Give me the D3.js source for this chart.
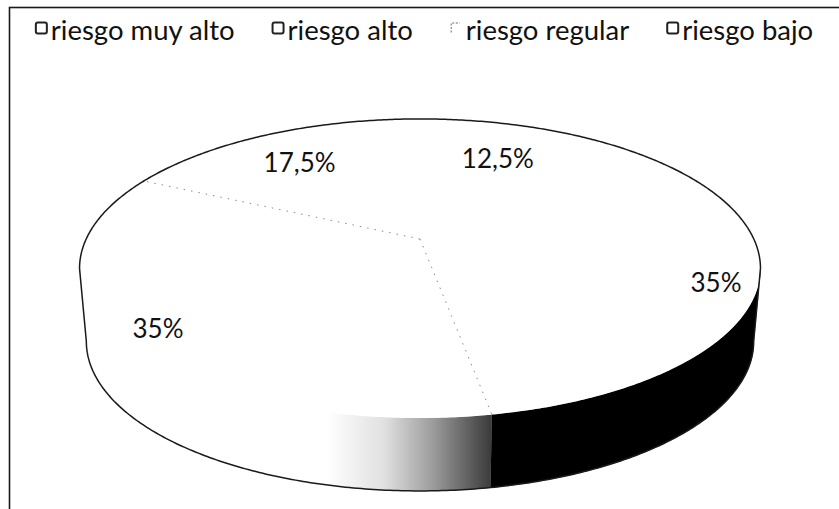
<!DOCTYPE html>
<html>
<head>
<meta charset="utf-8">
<script src="https://cdn.jsdelivr.net/npm/d3@7"></script>
<style>
  html, body { margin: 0; padding: 0; background: #fff; }
  svg { display: block; }
  text { font-family: Lato, "Open Sans", sans-serif; fill: #111; }
</style>
</head>
<body>
<svg id="chart" width="839" height="509"></svg>
<script>
// ---- data ----
const categories = ["riesgo muy alto", "riesgo alto", "riesgo regular", "riesgo bajo"];
const values = [35, 35, 17.5, 12.5];
const valueLabels = ["35%", "35%", "17,5%", "12,5%"];

// ---- styles ----
const sideFills = ["#000", "url(#sideGrad)", "#fff", "#fff"];
const edgeStrokes = [null, "#8a8a8a", null, null];
const swatchStrokes = ["#222", "#222", "#9a9a9a", "#222"];

const W = 839, H = 509;
const svg = d3.select("#chart");

// frame
svg.append("rect")
  .attr("x", 9.5).attr("y", 7.5)
  .attr("width", W + 10).attr("height", H + 10)
  .attr("fill", "#fff").attr("stroke", "#1a1a1a").attr("stroke-width", 1.6);

// ---- 3D perspective projection of the pie's top face ----
const elev = 25.5 * Math.PI / 180;
const sE = Math.sin(elev), cE = Math.cos(elev);
const dist = 5.08 * cE;      // camera distance (unit radius)
const cx0 = 420, cy0 = 239;  // projected pie centre
const topY = 119, frontY = 418;
const thickPx = 73;          // visual thickness of the side
const bottomShrink = 0.98;   // bottom rim slightly narrower
const spanUnits = sE / (dist + cE) + sE / (dist - cE);
const S = (frontY - topY) / spanUnits;

const xScale = d3.scaleLinear().domain([0, 1]).range([cx0, cx0 + S]);
const yScale = d3.scaleLinear().domain([0, 1]).range([cy0, cy0 - S]);

function project(theta, r) {
  const X = r * Math.sin(theta), Y = r * Math.cos(theta);
  const dep = Y * cE + dist;
  const up = Y * sE;
  return [xScale(X / dep), yScale(up / dep)];
}
function projectBottom(theta) {
  const p = project(theta, 1);
  return [cx0 + (p[0] - cx0) * bottomShrink, p[1] + thickPx];
}

const pie = d3.pie().sort(null).value(d => d)
  .startAngle(44 * Math.PI / 180)
  .endAngle(44 * Math.PI / 180 + 2 * Math.PI);
const arcs = pie(values);

function samples(a0, a1, fn) {
  const n = Math.max(2, Math.ceil(Math.abs(a1 - a0) / 0.01));
  const pts = [];
  for (let i = 0; i <= n; i++) pts.push(fn(a0 + (a1 - a0) * i / n));
  return pts;
}
const topArc = (a0, a1) => samples(a0, a1, t => project(t, 1));
const botArc = (a0, a1) => samples(a0, a1, projectBottom);
const line = d3.line();

// visible range of the side: between the horizontal extremes of the rim
const cLim = Math.acos(-cE / dist);
const vMin = cLim, vMax = 2 * Math.PI - cLim;

// gradient for the second slice side
const defs = svg.append("defs");
const gStart = project(arcs[1].startAngle, 1)[0];
const grad = defs.append("linearGradient").attr("id", "sideGrad")
  .attr("gradientUnits", "userSpaceOnUse")
  .attr("x1", gStart).attr("y1", 0).attr("x2", gStart - 165).attr("y2", 0);
[[0, "#3a3a3a"], [0.12, "#5a5a5a"], [0.35, "#9a9a9a"], [0.65, "#e0e0e0"], [1, "#ffffff"]]
  .forEach(([o, c]) => grad.append("stop").attr("offset", o).attr("stop-color", c));

const gPie = svg.append("g");

// sides
arcs.forEach((a, i) => {
  const segs = [[a.startAngle, a.endAngle], [a.startAngle - 2 * Math.PI, a.endAngle - 2 * Math.PI]];
  segs.forEach(([s0, s1]) => {
    const lo = Math.max(s0, vMin), hi = Math.min(s1, vMax);
    if (hi <= lo) return;
    gPie.append("path")
      .attr("d", line(topArc(lo, hi).concat(botArc(hi, lo))) + "Z")
      .attr("fill", sideFills[i])
      .attr("stroke", sideFills[i] === "#000" ? "#000" : "none")
      .attr("stroke-width", 0.5);
  });
});

// top faces
arcs.forEach((a, i) => {
  const pts = [project(0, 0)].concat(topArc(a.startAngle, a.endAngle));
  gPie.append("path").attr("d", line(pts) + "Z").attr("fill", "#fff").attr("stroke", "none");
});

// dotted slice borders
arcs.forEach((a, i) => {
  if (!edgeStrokes[i]) return;
  const p0 = project(0, 0);
  [a.startAngle, a.endAngle].forEach(ang => {
    const p1 = project(ang, 1);
    gPie.append("line")
      .attr("x1", p0[0]).attr("y1", p0[1]).attr("x2", p1[0]).attr("y2", p1[1])
      .attr("stroke", edgeStrokes[i]).attr("stroke-width", 1)
      .attr("stroke-dasharray", "1.5,6");
  });
});

// silhouette outline
const sil = topArc(vMax, vMin + 2 * Math.PI).concat(botArc(vMin, vMax));
gPie.append("path").attr("d", line(sil) + "Z")
  .attr("fill", "none").attr("stroke", "#1a1a1a").attr("stroke-width", 1.5);

// value labels (radius grows with the slice's angular size)
arcs.forEach((a, i) => {
  const mid = (a.startAngle + a.endAngle) / 2;
  const deg = (a.endAngle - a.startAngle) * 180 / Math.PI;
  const r = 0.72 + 0.00198 * (deg - 45);
  const p = project(mid, r);
  svg.append("text")
    .attr("x", p[0]).attr("y", p[1] + 4)
    .attr("text-anchor", "middle").attr("dominant-baseline", "central")
    .attr("font-size", 26)
    .text(valueLabels[i]);
});

// legend
const leg = svg.append("g");
const fontSize = 27.5, sw = 13, gapSw = 3, gapItem = 37;
const items = categories.map((c, i) => {
  const g = leg.append("g");
  if (i === 2) {
    g.append("path").attr("d", `M1.5,${sw / 2 - 2} V${-sw / 2 + 1.5} H${sw - 3}`)
      .attr("fill", "none").attr("stroke", swatchStrokes[i]).attr("stroke-width", 1.5)
      .attr("stroke-dasharray", "2,1.5");
  } else {
    g.append("rect").attr("x", 1).attr("y", -sw / 2 + 1).attr("width", sw - 2).attr("height", sw - 2)
      .attr("rx", 2)
      .attr("fill", "#fff").attr("stroke", swatchStrokes[i]).attr("stroke-width", 2);
  }
  const t = g.append("text").attr("x", sw + gapSw).attr("y", 1)
    .attr("dominant-baseline", "central").attr("font-size", fontSize).text(c);
  return { g, w: sw + gapSw + t.node().getComputedTextLength() };
});
const total = d3.sum(items, d => d.w) + gapItem * (items.length - 1);
let xCur = (9 + W) / 2 - total / 2;
items.forEach(it => {
  it.g.attr("transform", `translate(${xCur},28)`);
  xCur += it.w + gapItem;
});
</script>
</body>
</html>
